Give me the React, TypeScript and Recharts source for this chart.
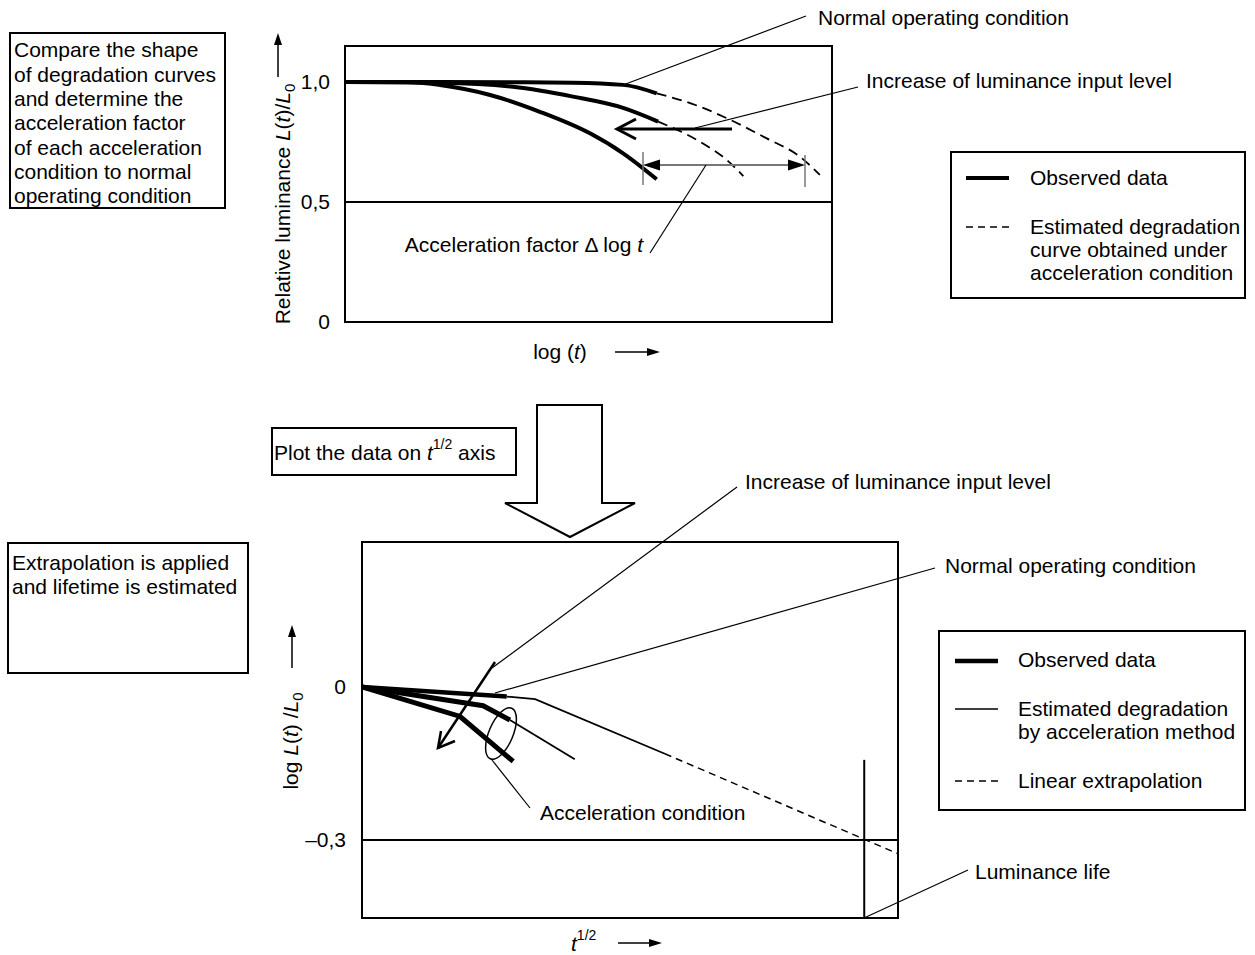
import React from 'react';
import { LineChart, Line, XAxis, YAxis, ReferenceLine, ReferenceArea } from 'recharts';

const FONT = '"Liberation Sans", Arial, sans-serif';
const FS = 21;

// upper diagram: x = log(t) on a 0..100 scale, y = relative luminance L(t)/L0
const topTicks = [0, 0.5, 1];
const normalObserved = [
  { x: 0, y: 1.0 }, { x: 19.5, y: 1.0 }, { x: 34.5, y: 0.999 }, { x: 46.8, y: 0.997 },
  { x: 57.1, y: 0.988 }, { x: 64.0, y: 0.953 },
];
const normalEstimated = [
  { x: 64.0, y: 0.953 }, { x: 72.9, y: 0.897 }, { x: 78.4, y: 0.849 }, { x: 86.6, y: 0.765 },
  { x: 93.4, y: 0.689 }, { x: 97.5, y: 0.613 },
];
const acc1Observed = [
  { x: 0, y: 1.0 }, { x: 19.5, y: 0.997 }, { x: 34.5, y: 0.98 }, { x: 46.8, y: 0.939 },
  { x: 57.1, y: 0.892 }, { x: 64.3, y: 0.835 },
];
const acc1Estimated = [
  { x: 64.3, y: 0.835 }, { x: 72.9, y: 0.751 }, { x: 78.4, y: 0.675 }, { x: 81.8, y: 0.608 },
];
const acc2Observed = [
  { x: 0, y: 1.0 }, { x: 12.7, y: 1.0 }, { x: 19.5, y: 0.9875 }, { x: 29.8, y: 0.946 },
  { x: 40.0, y: 0.876 }, { x: 50.3, y: 0.786 }, { x: 57.1, y: 0.703 }, { x: 64.0, y: 0.595 },
];

// lower diagram: x = t^1/2 on a 0..100 scale, y = log L(t)/L0
const bottomTicks = [-0.3, 0];
const sqNormalObserved = [{ x: 0, y: 0 }, { x: 27.0, y: -0.019 }];
const sqNormalEstimated = [{ x: 27.0, y: -0.019 }, { x: 32.3, y: -0.024 }, { x: 56.5, y: -0.131 }];
const sqNormalExtrapolated = [{ x: 56.5, y: -0.131 }, { x: 100, y: -0.327 }];
const sqAcc1Observed = [{ x: 0, y: 0 }, { x: 22.6, y: -0.037 }, { x: 27.6, y: -0.065 }];
const sqAcc1Estimated = [{ x: 27.6, y: -0.065 }, { x: 39.7, y: -0.142 }];
const sqAcc2Observed = [{ x: 0, y: 0 }, { x: 18.3, y: -0.058 }, { x: 28.2, y: -0.146 }];
const luminanceLifeX = 93.7;
const luminanceLifeTop = -0.143;

const topDomain: [number, number] = [0, 1.15];
const bottomDomain: [number, number] = [-0.453, 0.284];

const fmtTop = (v: number) => (v === 0 ? '0' : v.toFixed(1).replace('.', ','));
const fmtBottom = (v: number) => (v === 0 ? '0' : '\u2013' + Math.abs(v).toFixed(1).replace('.', ','));

const tickStyle = { fontSize: FS, fill: '#000', fontFamily: FONT };

// text helper: y is the visual centre of the line
const T = ({ x, y, children, anchor = 'start', size = FS }: any) => (
  <text x={x} y={y + size * 0.35} textAnchor={anchor} fontSize={size} fontFamily={FONT} fill="#000">
    {children}
  </text>
);

const Seg = ({ x1, y1, x2, y2, w = 1.2, color = '#000', dash }: any) => (
  <line x1={x1} y1={y1} x2={x2} y2={y2} stroke={color} strokeWidth={w} strokeDasharray={dash} />
);

function Overlay() {
  const lh = 24.3;
  const box1 = [
    'Compare the shape',
    'of degradation curves',
    'and determine the',
    'acceleration factor',
    'of each acceleration',
    'condition to normal',
    'operating condition',
  ];
  return (
    <svg width={1255} height={955} style={{ position: 'absolute', left: 0, top: 0 }}>
      {/* ---------- upper diagram ---------- */}
      <rect x={10} y={33} width={215} height={175} fill="none" stroke="#000" strokeWidth={2} />
      {box1.map((s, i) => (
        <T key={s} x={14} y={50 + i * lh}>{s}</T>
      ))}

      <text transform="translate(290,204) rotate(-90)" textAnchor="middle" fontSize={FS} fontFamily={FONT}>
        Relative luminance <tspan fontStyle="italic">L</tspan>(<tspan fontStyle="italic">t</tspan>)/<tspan fontStyle="italic">L</tspan>
        <tspan fontSize={15} dy={5}>0</tspan>
      </text>
      <Seg x1={278} y1={77} x2={278} y2={42} w={1.5} />
      <polygon points="278,33 274,45 282,45" fill="#000" />

      <text x={560} y={359} textAnchor="middle" fontSize={FS} fontFamily={FONT}>
        log (<tspan fontStyle="italic">t</tspan>)
      </text>
      <Seg x1={615} y1={352} x2={650} y2={352} w={1.5} />
      <polygon points="660,352 647,348 647,356" fill="#000" />

      {/* leaders */}
      <Seg x1={623} y1={85} x2={806} y2={16} />
      <T x={818} y={18}>Normal operating condition</T>
      <Seg x1={695} y1={128} x2={858} y2={87} />
      <T x={866} y={81}>Increase of luminance input level</T>

      {/* increase arrow */}
      <Seg x1={732} y1={129} x2={617} y2={129} w={3} />
      <polyline points="636,119 617,129 636,139" fill="none" stroke="#000" strokeWidth={3} />

      {/* acceleration factor */}
      <Seg x1={643} y1={152} x2={643} y2={185} w={1.5} color="#777" />
      <Seg x1={805} y1={155} x2={805} y2={187} w={1.5} color="#777" />
      <Seg x1={656} y1={165} x2={792} y2={165} w={1.8} color="#777" />
      <polygon points="643,165 660,159.5 660,170.5" fill="#000" />
      <polygon points="805,165 788,159.5 788,170.5" fill="#000" />
      <Seg x1={706} y1={165} x2={650} y2={253} />
      <text x={643} y={252} textAnchor="end" fontSize={FS} fontFamily={FONT}>
        Acceleration factor {'\u0394'} log <tspan fontStyle="italic">t</tspan>
      </text>

      {/* legend */}
      <rect x={951} y={152} width={294} height={146} fill="none" stroke="#000" strokeWidth={2} />
      <Seg x1={966} y1={178} x2={1009} y2={178} w={4} />
      <T x={1030} y={178}>Observed data</T>
      <Seg x1={966} y1={227} x2={1009} y2={227} w={1.5} dash="7 5" />
      <T x={1030} y={227}>Estimated degradation</T>
      <T x={1030} y={250}>curve obtained under</T>
      <T x={1030} y={273}>acceleration condition</T>

      {/* ---------- transition ---------- */}
      <rect x={272} y={428} width={244} height={47} fill="none" stroke="#000" strokeWidth={2} />
      <text x={274} y={460} fontSize={FS} fontFamily={FONT}>
        Plot the data on <tspan fontStyle="italic">t</tspan>
        <tspan fontSize={14} dy={-11}>1/2</tspan>
        <tspan dy={11}> axis</tspan>
      </text>
      <polygon
        points="537,405 602,405 602,503 635,503 570,537 505,503 537,503"
        fill="#fff"
        stroke="#000"
        strokeWidth={2}
      />

      {/* ---------- lower diagram ---------- */}
      <rect x={8} y={543} width={240} height={130} fill="none" stroke="#000" strokeWidth={2} />
      <T x={12} y={563}>Extrapolation is applied</T>
      <T x={12} y={587}>and lifetime is estimated</T>

      <text transform="translate(298,741) rotate(-90)" textAnchor="middle" fontSize={FS} fontFamily={FONT}>
        log <tspan fontStyle="italic">L</tspan>(<tspan fontStyle="italic">t</tspan>) /<tspan fontStyle="italic">L</tspan>
        <tspan fontSize={15} dy={5}>0</tspan>
      </text>
      <Seg x1={292} y1={668} x2={292} y2={634} w={1.5} />
      <polygon points="292,625 288,637 296,637" fill="#000" />

      <text x={571} y={951} fontSize={FS} fontFamily={FONT}>
        <tspan fontStyle="italic">t</tspan>
        <tspan fontSize={14} dy={-11}>1/2</tspan>
      </text>
      <Seg x1={618} y1={943} x2={652} y2={943} w={1.5} />
      <polygon points="662,943 649,939 649,947" fill="#000" />

      {/* increase arrow + ellipse */}
      <Seg x1={495} y1={662} x2={438} y2={748} w={2.5} />
      <polyline points="441,731 438,748 455,741" fill="none" stroke="#000" strokeWidth={2.5} />
      <ellipse cx={501} cy={733.5} rx={12} ry={27.5} transform="rotate(23 501 733.5)" fill="none" stroke="#000" strokeWidth={1.5} />

      {/* leaders */}
      <Seg x1={492} y1={668} x2={737} y2={487} />
      <T x={745} y={482}>Increase of luminance input level</T>
      <Seg x1={495} y1={693} x2={935} y2={568} />
      <T x={945} y={566}>Normal operating condition</T>
      <Seg x1={492} y1={760} x2={530} y2={808} />
      <T x={540} y={813}>Acceleration condition</T>
      <Seg x1={864} y1={918} x2={968} y2={870} />
      <T x={975} y={872}>Luminance life</T>

      {/* legend */}
      <rect x={939} y={631} width={306} height={179} fill="none" stroke="#000" strokeWidth={2} />
      <Seg x1={955} y1={661} x2={998} y2={661} w={4.5} />
      <T x={1018} y={660}>Observed data</T>
      <Seg x1={955} y1={709} x2={998} y2={709} w={1.5} />
      <T x={1018} y={709}>Estimated degradation</T>
      <T x={1018} y={732}>by acceleration method</T>
      <Seg x1={955} y1={781} x2={998} y2={781} w={1.5} dash="7 5" />
      <T x={1018} y={781}>Linear extrapolation</T>
    </svg>
  );
}

const lineProps = { dataKey: 'y', dot: false, activeDot: false, isAnimationActive: false, stroke: '#000' } as const;

export default function App() {
  return (
    <div style={{ position: 'absolute', left: 0, top: 0, width: 1255, height: 955, background: '#fff', fontFamily: FONT }}>
      <div style={{ position: 'absolute', left: 0, top: 0 }}>
        <LineChart width={1255} height={955} margin={{ top: 46, right: 423, bottom: 633, left: 285 }}>
          <XAxis type="number" dataKey="x" domain={[0, 100]} hide allowDataOverflow />
          <YAxis
            type="number"
            domain={topDomain}
            ticks={topTicks}
            allowDataOverflow
            width={60}
            axisLine={false}
            tickLine={false}
            tickSize={0}
            tickMargin={15}
            tick={tickStyle}
            tickFormatter={fmtTop}
          />
          <ReferenceArea x1={0} x2={100} y1={topDomain[0]} y2={topDomain[1]} fill="none" stroke="#000" strokeWidth={2} fillOpacity={0} ifOverflow="visible" />
          <ReferenceLine y={0.5} stroke="#000" strokeWidth={2} />
          <Line {...lineProps} data={normalEstimated} type="monotone" strokeWidth={1.8} strokeDasharray="10 6" />
          <Line {...lineProps} data={acc1Estimated} type="monotone" strokeWidth={1.8} strokeDasharray="10 6" />
          <Line {...lineProps} data={normalObserved} type="monotone" strokeWidth={4} />
          <Line {...lineProps} data={acc1Observed} type="monotone" strokeWidth={4} />
          <Line {...lineProps} data={acc2Observed} type="monotone" strokeWidth={4} />
        </LineChart>
      </div>
      <div style={{ position: 'absolute', left: 0, top: 0 }}>
        <LineChart width={1255} height={955} margin={{ top: 542, right: 357, bottom: 37, left: 302 }}>
          <XAxis type="number" dataKey="x" domain={[0, 100]} hide allowDataOverflow />
          <YAxis
            type="number"
            domain={bottomDomain}
            ticks={bottomTicks}
            allowDataOverflow
            width={60}
            axisLine={false}
            tickLine={false}
            tickSize={0}
            tickMargin={16}
            tick={tickStyle}
            tickFormatter={fmtBottom}
          />
          <ReferenceArea x1={0} x2={100} y1={bottomDomain[0]} y2={bottomDomain[1]} fill="none" stroke="#000" strokeWidth={2} fillOpacity={0} ifOverflow="visible" />
          <ReferenceLine y={-0.3} stroke="#000" strokeWidth={2} />
          <ReferenceLine
            segment={[{ x: luminanceLifeX, y: bottomDomain[0] }, { x: luminanceLifeX, y: luminanceLifeTop }]}
            stroke="#000"
            strokeWidth={2}
          />
          <Line {...lineProps} data={sqNormalExtrapolated} type="linear" strokeWidth={1.5} strokeDasharray="7 5" />
          <Line {...lineProps} data={sqNormalEstimated} type="linear" strokeWidth={1.8} />
          <Line {...lineProps} data={sqAcc1Estimated} type="linear" strokeWidth={1.8} />
          <Line {...lineProps} data={sqNormalObserved} type="linear" strokeWidth={4.5} />
          <Line {...lineProps} data={sqAcc1Observed} type="linear" strokeWidth={5} />
          <Line {...lineProps} data={sqAcc2Observed} type="linear" strokeWidth={5} />
        </LineChart>
      </div>
      <Overlay />
    </div>
  );
}
